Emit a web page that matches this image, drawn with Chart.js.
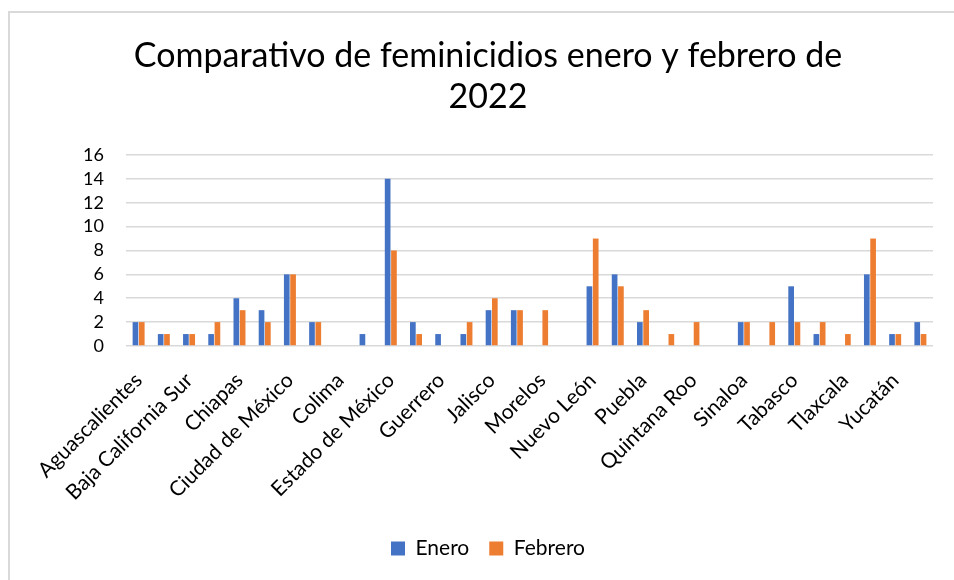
<!DOCTYPE html>
<html>
<head>
<meta charset="utf-8">
<title>Comparativo de feminicidios enero y febrero de 2022</title>
<script src="https://cdn.jsdelivr.net/npm/chart.js@4"></script>
<style>
    body { margin: 0; background: #fff; }
    #frame {
        position: absolute; left: 8px; top: 11px; width: 980px; height: 600px;
        border-left: 2px solid #d9d9d9; border-top: 2px solid #d9d9d9;
    }
    #wrap { position: absolute; left: 0; top: 0; width: 954px; height: 580px; }
</style>
</head>
<body>
<div id="frame"></div>
<div id="wrap"><canvas id="chart" width="954" height="580"></canvas></div>
<script>
// States, alphabetical
const estados = [
    'Aguascalientes', 'Baja California', 'Baja California Sur', 'Campeche',
    'Chiapas', 'Chihuahua', 'Ciudad de México', 'Coahuila',
    'Colima', 'Durango', 'Estado de México', 'Guanajuato',
    'Guerrero', 'Hidalgo', 'Jalisco', 'Michoacán',
    'Morelos', 'Nayarit', 'Nuevo León', 'Oaxaca',
    'Puebla', 'Querétaro', 'Quintana Roo', 'San Luis Potosí',
    'Sinaloa', 'Sonora', 'Tabasco', 'Tamaulipas',
    'Tlaxcala', 'Veracruz', 'Yucatán', 'Zacatecas'
];
const enero   = [2, 1, 1, 1, 4, 3, 6, 2, 0, 1, 14, 2, 1, 1, 3, 3, 0, 0, 5, 6, 2, 0, 0, 0, 2, 0, 5, 1, 0, 6, 1, 2];
const febrero = [2, 1, 1, 2, 3, 2, 6, 2, 0, 0, 8, 1, 0, 2, 4, 3, 3, 0, 9, 5, 3, 1, 2, 0, 2, 2, 2, 2, 1, 9, 1, 1];
const yTicks = [0, 2, 4, 6, 8, 10, 12, 14, 16];

const FONT = 'Lato, "Open Sans", sans-serif';

const ctx = document.getElementById('chart').getContext('2d');
new Chart(ctx, {
    type: 'bar',
    data: {
        labels: estados,
        datasets: [
            { label: 'Enero', data: enero, backgroundColor: '#4472C4', categoryPercentage: 0.5, barPercentage: 0.9 },
            { label: 'Febrero', data: febrero, backgroundColor: '#ED7D31', categoryPercentage: 0.5, barPercentage: 0.9 }
        ]
    },
    options: {
        responsive: false,
        animation: false,
        layout: { padding: { left: 43, right: 21, top: 0, bottom: 11 } },
        plugins: {
            title: {
                display: true,
                text: ['Comparativo de feminicidios enero y febrero de', '2022'],
                color: '#000',
                font: { family: FONT, size: 34, weight: 'normal', lineHeight: 1.22 },
                padding: { top: 35, bottom: 37 }
            },
            legend: {
                position: 'bottom',
                labels: {
                    color: '#000',
                    font: { family: FONT, size: 21 },
                    boxWidth: 14, boxHeight: 14,
                    padding: 20
                }
            },
            tooltip: { enabled: false }
        },
        scales: {
            x: {
                grid: { display: false },
                border: { display: false },
                ticks: {
                    autoSkip: false,
                    minRotation: 45, maxRotation: 45,
                    padding: 14,
                    color: '#000',
                    font: { family: FONT, size: 21 },
                    callback: function (v, i) { return i % 2 === 0 ? this.getLabelForValue(v) : ''; }
                },
                afterFit: s => { s.height = 172; }
            },
            y: {
                min: 0, max: 16,
                afterBuildTicks: s => { s.ticks = yTicks.map(v => ({ value: v })); },
                grid: { color: '#d9d9d9', lineWidth: 1.5, drawTicks: false },
                border: { display: false },
                ticks: { autoSkip: false, padding: 22, color: '#000', font: { family: FONT, size: 18 } },
                afterFit: s => { s.width = 83; }
            }
        }
    }
});
</script>
</body>
</html>
